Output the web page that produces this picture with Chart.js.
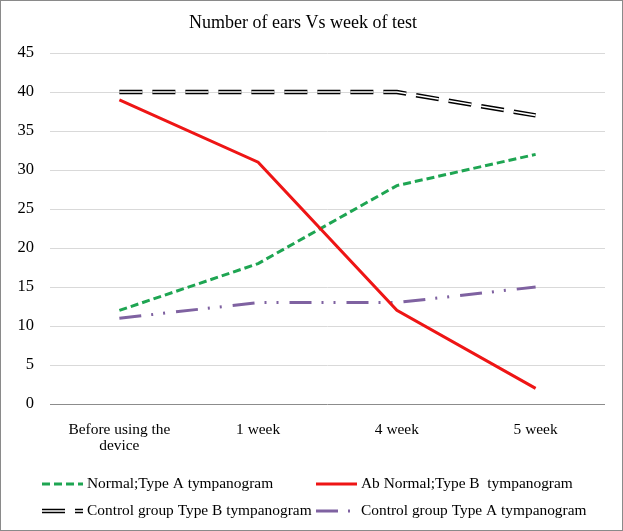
<!DOCTYPE html>
<html>
<head>
<meta charset="utf-8">
<script src="https://cdn.jsdelivr.net/npm/chart.js@4.4.0/dist/chart.umd.min.js"></script>
<style>
  html, body { margin: 0; padding: 0; background: #fff; }
  #wrap { width: 621px; height: 529px; border: 1px solid #8a8a8a; position: relative; }
  canvas { display: block; }
</style>
</head>
<body>
<div id="wrap"><canvas id="chart" width="621" height="529"></canvas></div>
<script>
// chart data
const weeks = [['Before using the', 'device'], '1 week', '4 week', '5 week'];
const normalTypeA = [12, 18, 28, 32];
const abNormalTypeB = [39, 31, 12, 2];
const controlTypeB = [40, 40, 40, 37];
const controlTypeA = [11, 13, 13, 15];
const yMin = 0, yMax = 45, yStep = 5;

const serif = '"Liberation Serif", "Times New Roman", serif';

// legend drawn by hand: two columns, two rows like the original
const legendLayout = [
  { ds: 0, x: 41, y: 483 },
  { ds: 1, x: 315, y: 483 },
  { ds: 2, x: 41, y: 510 },
  { ds: 3, x: 315, y: 510 }
];

const legendPlugin = {
  id: 'twoColLegend',
  afterDraw(chart) {
    const ctx = chart.ctx;
    ctx.save();
    ctx.font = '15.4px ' + serif;
    ctx.textBaseline = 'middle';
    ctx.fillStyle = '#000';
    legendLayout.forEach(item => {
      const ds = chart.data.datasets[item.ds];
      const drawSample = (color, width) => {
        ctx.beginPath();
        ctx.strokeStyle = color;
        ctx.lineWidth = width;
        ctx.setLineDash(ds.borderDash || []);
        ctx.moveTo(item.x, item.y);
        ctx.lineTo(item.x + 41, item.y);
        ctx.stroke();
      };
      drawSample(ds.borderColor, ds.borderWidth);
      if (ds.innerColor) drawSample(ds.innerColor, 1.6);
      ctx.setLineDash([]);
      ctx.fillText(ds.label, item.x + 45, item.y);
    });
    ctx.restore();
  }
};

new Chart(document.getElementById('chart'), {
  type: 'line',
  data: {
    labels: weeks,
    datasets: [
      {
        label: 'Normal;Type A tympanogram',
        data: normalTypeA,
        borderColor: '#1ea552',
        borderWidth: 3,
        borderDash: [8, 4],
        order: 3
      },
      {
        label: 'Ab Normal;Type B  tympanogram',
        data: abNormalTypeB,
        borderColor: '#ee1515',
        borderWidth: 3,
        order: 2
      },
      {
        label: 'Control group Type B tympanogram',
        data: controlTypeB,
        borderColor: '#000',
        innerColor: '#fff',
        borderWidth: 4.4,
        borderDash: [23, 10],
        order: 1
      },
      {
        label: 'Control group Type A tympanogram',
        data: controlTypeA,
        borderColor: '#7f62a1',
        borderWidth: 3,
        borderDash: [22, 10, 2, 10, 2, 11],
        order: 4
      },
      {
        // white core of the double line
        label: 'inner',
        data: controlTypeB,
        borderColor: '#fff',
        borderWidth: 1.6,
        borderDash: [23, 10],
        order: 0
      }
    ]
  },
  options: {
    responsive: false,
    animation: false,
    layout: { padding: { left: 0, right: 17, top: 0, bottom: 66 } },
    elements: {
      point: { radius: 0, hoverRadius: 0 },
      line: { tension: 0, borderCapStyle: 'butt', fill: false }
    },
    plugins: {
      legend: { display: false },
      tooltip: { enabled: false },
      title: {
        display: true,
        text: 'Number of ears Vs week of test',
        color: '#000',
        font: { family: serif, size: 18, weight: 'normal' },
        padding: { top: 11, bottom: 19.4 }
      }
    },
    scales: {
      x: {
        offset: true,
        grid: { display: false },
        border: { display: false },
        ticks: {
          color: '#000',
          font: { family: serif, size: 15.4, lineHeight: 1.1 },
          padding: 9,
          maxRotation: 0
        },
        afterFit(scale) { scale.height = 60; }
      },
      y: {
        min: yMin,
        max: yMax,
        border: { display: false },
        grid: {
          drawTicks: false,
          color: ctx => ctx.tick && ctx.tick.value === 0 ? '#8c8c8c' : '#d9d9d9'
        },
        ticks: {
          stepSize: yStep,
          color: '#000',
          font: { family: serif, size: 16.5 },
          padding: 16
        },
        afterFit(scale) { scale.width = 49; }
      }
    }
  },
  plugins: [legendPlugin]
});
</script>
</body>
</html>
